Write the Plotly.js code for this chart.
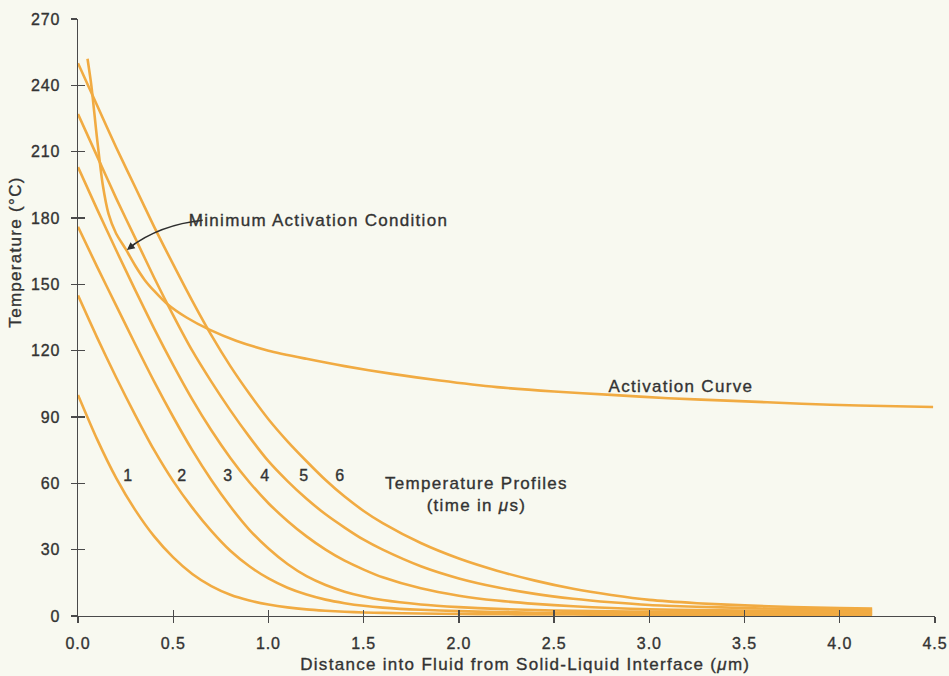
<!DOCTYPE html>
<html>
<head>
<meta charset="utf-8">
<script src="https://cdn.plot.ly/plotly-3.0.1.min.js"></script>
<style>
  html, body { margin: 0; padding: 0; background: #f8f9f0; }
  #chart { width: 949px; height: 676px; }
  .main-svg text { letter-spacing: 1.3px; stroke: #333333; stroke-width: 0.35px; }
  .xtick text, .ytick text { letter-spacing: 0.9px; }
</style>
</head>
<body>
<div id="chart"></div>
<script>
// ---- data ----
const distance = [0, 0.1, 0.2, 0.3, 0.4, 0.5, 0.6, 0.7, 0.8, 0.9, 1.0, 1.1, 1.2, 1.3, 1.4, 1.5, 1.6, 1.8, 2.0, 2.2, 2.4, 2.6, 2.8, 3.0, 3.25, 3.5, 3.75, 4.0, 4.17];

const profile1 = [100, 80, 62.5, 48, 36, 26.5, 19, 13.5, 9.6, 7, 5.2, 3.9, 3.0, 2.4, 1.9, 1.6, 1.4, 1.1, 0.9, 0.8, 0.7, 0.65, 0.6, 0.55, 0.5, 0.5, 0.45, 0.4, 0.4];
const profile2 = [145, 126, 108, 91, 75, 61, 49, 38.5, 29.5, 22.5, 17, 12.8, 9.7, 7.4, 5.8, 4.6, 3.8, 2.8, 2.2, 1.8, 1.5, 1.35, 1.25, 1.15, 1.1, 1.05, 1.0, 1.0, 1.0];
const profile3 = [176, 158, 140.5, 123, 106, 90, 75, 61.5, 49.5, 39, 30.5, 23.5, 18, 14, 11, 8.8, 7.2, 5.2, 4.0, 3.2, 2.7, 2.3, 2.1, 1.9, 1.8, 1.7, 1.65, 1.6, 1.6];
const profile4 = [203, 184, 165.5, 147.5, 130, 113.5, 98, 84, 71.5, 60.5, 51, 43, 36, 30, 25, 21, 17.5, 12.5, 9.2, 7.0, 5.5, 4.4, 3.6, 3.0, 2.7, 2.5, 2.35, 2.25, 2.2];
const profile5 = [227, 208, 189, 171, 153, 136, 120, 106, 93, 81, 70, 61, 53, 46, 40, 34.5, 30, 22.5, 17, 13, 10, 7.8, 6.2, 5.0, 4.2, 3.6, 3.2, 2.95, 2.8];
const profile6 = [250, 231, 212, 194, 176, 159, 142.5, 127, 113, 100.5, 89, 79, 70, 61.5, 54, 47.5, 42, 33, 26, 20.5, 16, 12.3, 9.5, 7.3, 5.8, 4.8, 4.1, 3.6, 3.4];

const activationX = [0.05, 0.07, 0.1, 0.13, 0.16, 0.2, 0.25, 0.3, 0.35, 0.4, 0.47, 0.57, 0.69, 0.83, 1.0, 1.2, 1.4, 1.65, 1.9, 2.2, 2.5, 2.8, 3.1, 3.44, 3.8, 4.1, 4.49];
const activationT = [252, 240, 216, 195, 182, 173, 166, 158.5, 152, 147, 141, 135, 129.5, 124.5, 120, 116.3, 113, 109.5, 106.5, 103.5, 101.5, 100, 98.5, 97.3, 96, 95.2, 94.5];

const profileLabels = ['1', '2', '3', '4', '5', '6'];
const xTickVals = [0, 0.5, 1.0, 1.5, 2.0, 2.5, 3.0, 3.5, 4.0, 4.5];
const xTickText = ['0.0', '0.5', '1.0', '1.5', '2.0', '2.5', '3.0', '3.5', '4.0', '4.5'];
const yTickVals = [0, 30, 60, 90, 120, 150, 180, 210, 240, 270];
const yTickText = ['0', '30', '60', '90', '120', '150', '180', '210', '240', '270'];

// ---- styling / layout ----
const LINE = '#f1ab42';
const INK = '#333333';
const AXIS = '#4a4a4a';
const BG = '#f8f9f0';
const FONT = '"Liberation Sans", Arial, Helvetica, sans-serif';

const profiles = [profile1, profile2, profile3, profile4, profile5, profile6];
const traces = profiles.map((p, i) => ({
  type: 'scatter', mode: 'lines', x: distance, y: p,
  name: 'Profile ' + profileLabels[i],
  line: {color: LINE, width: 2.6, shape: 'spline', smoothing: 0.7},
  hoverinfo: 'x+y', showlegend: false
}));
traces.push({
  type: 'scatter', mode: 'lines', x: activationX, y: activationT,
  xaxis: 'x2', yaxis: 'y2',
  name: 'Activation Curve',
  line: {color: LINE, width: 2.6, shape: 'spline', smoothing: 0.7},
  hoverinfo: 'x+y', showlegend: false
});

// label positions (layout only)
const labelX = [0.263, 0.551, 0.788, 0.982, 1.187, 1.376];
const labelY = 63.6;

const annotations = profileLabels.map((t, i) => ({
  x: labelX[i], y: labelY, xref: 'x', yref: 'y', text: t, showarrow: false,
  font: {family: FONT, size: 16, color: INK}, xanchor: 'center', yanchor: 'middle'
}));
annotations.push(
  {x: 0.667, y: 179, xref: 'x', yref: 'y', text: 'Minimum Activation Condition', showarrow: false,
   font: {family: FONT, size: 17, color: INK}, xanchor: 'left', yanchor: 'middle'},
  {x: 3.167, y: 104, xref: 'x', yref: 'y', text: 'Activation Curve', showarrow: false,
   font: {family: FONT, size: 17, color: INK}, xanchor: 'center', yanchor: 'middle'},
  {x: 2.095, y: 55, xref: 'x', yref: 'y', text: 'Temperature Profiles<br>(time in <i>μ</i>s)', showarrow: false,
   font: {family: FONT, size: 17, color: INK}, xanchor: 'center', yanchor: 'middle', align: 'center'},
  // arrowhead for the curved pointer
  {x: 0.257, y: 165.5, xref: 'x', yref: 'y', text: '', showarrow: true,
   ax: 10, ay: -8, arrowhead: 2, arrowsize: 1.1, arrowwidth: 1.4, arrowcolor: '#2e2e2e'},
  // axis titles
  {x: 0.522, y: -0.082, xref: 'paper', yref: 'paper', yanchor: 'middle', xanchor: 'center',
   text: 'Distance into Fluid from Solid-Liquid Interface (<i>μ</i>m)', showarrow: false,
   font: {family: FONT, size: 17, color: INK}},
  {x: -0.073, y: 0.61, xref: 'paper', yref: 'paper', xanchor: 'center', yanchor: 'middle',
   text: 'Temperature (°C)', textangle: -90, showarrow: false,
   font: {family: FONT, size: 17, color: INK}}
);

const baseX = {
  range: [0, 4.5], tickvals: xTickVals, ticktext: xTickText,
  showgrid: false, zeroline: false, fixedrange: true
};
const baseY = {
  range: [0, 270], tickvals: yTickVals, ticktext: yTickText,
  showgrid: false, zeroline: false, fixedrange: true
};

const layout = {
  width: 949, height: 676,
  margin: {l: 78, r: 14, t: 19, b: 60},
  paper_bgcolor: BG, plot_bgcolor: BG,
  font: {family: FONT, size: 16, color: INK},
  showlegend: false,
  xaxis: Object.assign({}, baseX, {
    showline: true, linecolor: AXIS, linewidth: 1.4,
    ticks: 'outside', ticklen: 6, tickwidth: 1.4, tickcolor: AXIS,
    ticklabelstandoff: 6, tickfont: {family: FONT, size: 16, color: INK}
  }),
  yaxis: Object.assign({}, baseY, {
    showline: true, linecolor: AXIS, linewidth: 1.4,
    ticks: 'outside', ticklen: 6, tickwidth: 1.4, tickcolor: AXIS,
    ticklabelstandoff: 7, tickfont: {family: FONT, size: 16, color: INK}
  }),
  xaxis2: Object.assign({}, baseX, {
    overlaying: 'x', side: 'bottom', showline: false, showticklabels: false,
    ticks: 'inside', ticklen: 6, tickwidth: 1.4, tickcolor: AXIS
  }),
  yaxis2: Object.assign({}, baseY, {
    overlaying: 'y', side: 'left', showline: false, showticklabels: false,
    ticks: 'inside', ticklen: 7, tickwidth: 1.4, tickcolor: AXIS
  }),
  shapes: [{
    type: 'path', xref: 'x', yref: 'y',
    path: 'M 0.655,179 Q 0.43,177 0.27,166.6',
    line: {color: '#2e2e2e', width: 1.4}
  }],
  annotations: annotations
};

Plotly.newPlot('chart', traces, layout, {displayModeBar: false, staticPlot: true});
</script>
</body>
</html>
